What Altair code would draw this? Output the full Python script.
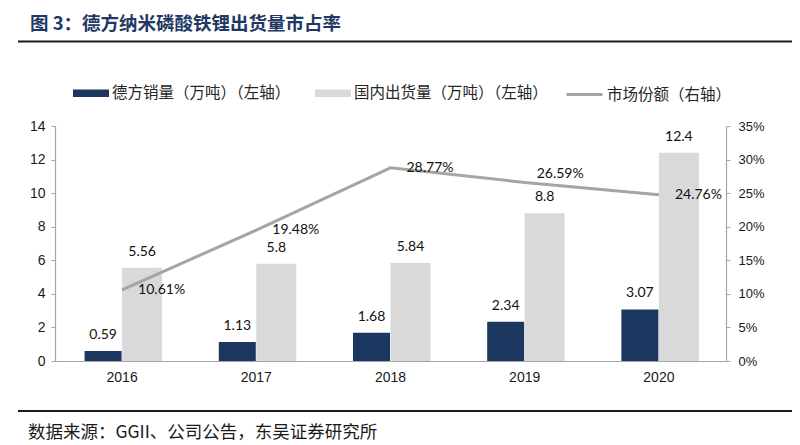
import altair as alt
import pandas as pd

years = ["2016", "2017", "2018", "2019", "2020"]
dexiang_sales = [0.59, 1.13, 1.68, 2.34, 3.07]
domestic_ship = [5.56, 5.8, 5.84, 8.8, 12.4]
market_share = [0.1061, 0.1948, 0.2877, 0.2659, 0.2476]

s_dark = "德方销量（万吨）（左轴）"
s_light = "国内出货量（万吨）（左轴）"
s_line = "市场份额（右轴）"
title_text = "图 3：德方纳米磷酸铁锂出货量市占率"
source_text = "数据来源：GGII、公司公告，东吴证券研究所"

C_DARK = "#1B365F"
C_LIGHT = "#D9D9D9"
C_LINE = "#A5A5A5"
C_AXIS = "#A6A6A6"
CJK = "Noto Sans CJK SC"

bars_df = pd.DataFrame({
    "year": years * 2,
    "series": [s_dark] * 5 + [s_light] * 5,
    "value": dexiang_sales + domestic_ship,
})
line_df = pd.DataFrame({"year": years, "share": market_share, "name": [s_line] * 5})

x_enc = alt.X(
    "year:N",
    scale=alt.Scale(paddingInner=0, paddingOuter=0),
    axis=alt.Axis(title=None, labelAngle=0, ticks=False, labelPadding=9,
                  labelFont="Liberation Sans", labelFontSize=14, labelColor="#1a1a1a",
                  domainColor=C_AXIS, domainWidth=1.2),
)
y_left = alt.Y(
    "value:Q",
    scale=alt.Scale(domain=[0, 14], nice=False),
    axis=alt.Axis(title=None, values=list(range(0, 15, 2)), grid=False,
                  labelFont="Liberation Sans", labelFontSize=14, labelColor="#1a1a1a",
                  labelPadding=6, tickSize=4, tickColor=C_AXIS, domainColor=C_AXIS,
                  domainWidth=1.2),
)
y_right = alt.Y(
    "share:Q",
    scale=alt.Scale(domain=[0, 0.35], nice=False),
    axis=alt.Axis(title=None, orient="right", format=".0%",
                  values=[0, 0.05, 0.1, 0.15, 0.2, 0.25, 0.3, 0.35], grid=False,
                  labelFont="Liberation Sans", labelFontSize=13, labelColor="#1a1a1a",
                  labelPadding=8, tickSize=4, tickColor=C_AXIS, domainColor=C_AXIS,
                  domainWidth=1.2),
)

color_enc = alt.Color(
    "series:N",
    scale=alt.Scale(domain=[s_dark, s_light], range=[C_DARK, C_LIGHT]),
    legend=alt.Legend(
        title=None, orient="none", legendX=18, legendY=-51, direction="horizontal",
        symbolType="M-1,-0.21H1V0.21H-1Z", symbolSize=1296, symbolStrokeWidth=0,
        labelFont=CJK, labelFontSize=15.5, labelColor="#262626", labelLimit=400,
        labelOffset=3, columnPadding=24,
    ),
)

base_bar = alt.Chart(bars_df).encode(x=x_enc, y=y_left)
dark_bar = base_bar.transform_filter(alt.datum.series == s_dark).mark_bar(
    width=37, xOffset=-19).encode(color=color_enc)
light_bar = base_bar.transform_filter(alt.datum.series == s_light).mark_bar(
    width=40, xOffset=20).encode(color=color_enc)
dark_txt = base_bar.transform_filter(alt.datum.series == s_dark).mark_text(
    dx=-19, dy=-16, baseline="middle", font="Lato", fontSize=14, color="#111111"
).encode(text=alt.Text("value:Q", format="~g"))
light_txt = base_bar.transform_filter(alt.datum.series == s_light).mark_text(
    dx=20, dy=-16, baseline="middle", font="Lato", fontSize=14, color="#111111"
).encode(text=alt.Text("value:Q", format="~g"))

bars_layer = alt.layer(dark_bar, light_bar, dark_txt, light_txt)

base_line = alt.Chart(line_df).encode(x=x_enc, y=y_right)
line = base_line.mark_line(strokeWidth=3).encode(
    stroke=alt.Stroke(
        "name:N",
        scale=alt.Scale(domain=[s_line], range=[C_LINE]),
        legend=alt.Legend(
            title=None, orient="none", legendX=510, legendY=-51,
            symbolType="stroke", symbolSize=1296, symbolStrokeWidth=3,
            labelFont=CJK, labelFontSize=15.5, labelColor="#262626", labelLimit=400,
            labelOffset=3,
        ),
    )
)
line_txt = base_line.transform_filter(alt.datum.year != "2019").mark_text(
    align="left", baseline="middle", dx=16, font="Lato", fontSize=14, color="#111111"
).encode(text=alt.Text("share:Q", format=".2%"))
line_txt19 = base_line.transform_filter(alt.datum.year == "2019").mark_text(
    align="left", baseline="middle", dx=12, dy=-8, font="Lato", fontSize=14, color="#111111"
).encode(text=alt.Text("share:Q", format=".2%"))

line_layer = alt.layer(line, line_txt, line_txt19)

one = pd.DataFrame({"t": [title_text], "s": [source_text]})
title_mark = alt.Chart(one).mark_text(
    align="left", baseline="middle", font=CJK, fontSize=18.5, fontWeight="bold", color="#1F3864"
).encode(x=alt.value(-25), y=alt.value(-102), text="t:N")
source_mark = alt.Chart(one).mark_text(
    align="left", baseline="middle", font=CJK, fontSize=17.5, color="#1a1a1a"
).encode(x=alt.value(-27), y=alt.value(307), text="s:N")
top_rule = alt.Chart(one).mark_rule(strokeWidth=2.2, color="#1a1a1a").encode(
    x=alt.value(-37), x2=alt.value(745), y=alt.value(-84.5))
bottom_rule = alt.Chart(one).mark_rule(strokeWidth=2.2, color="#1a1a1a").encode(
    x=alt.value(-37), x2=alt.value(745), y=alt.value(285))

chart = alt.layer(
    bars_layer, line_layer, title_mark, source_mark, top_rule, bottom_rule
).resolve_scale(y="independent", color="independent", stroke="independent").properties(
    width=671, height=235,
    autosize=alt.AutoSizeParams(type="none"),
    padding={"left": 47, "top": 118, "right": 66, "bottom": 84},
    background="white",
).configure_view(stroke=None)

chart.save("out.html", embed_options={"renderer": "svg", "actions": False})
